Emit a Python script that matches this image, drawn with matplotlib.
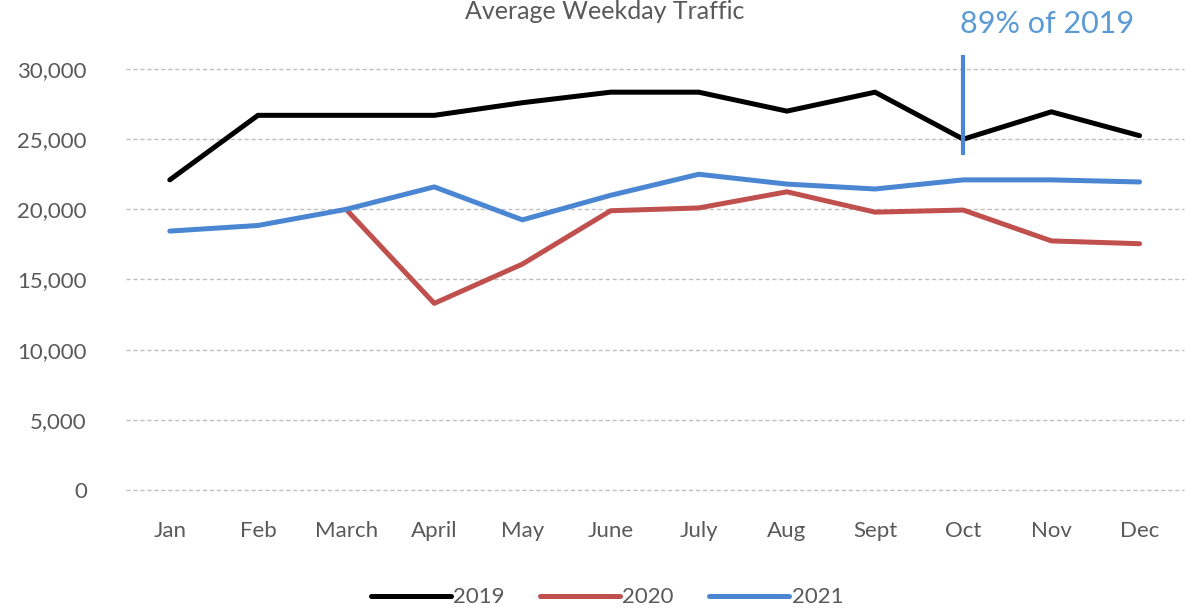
import numpy as np
import matplotlib.pyplot as plt

months = ["Jan", "Feb", "March", "April", "May", "June", "July", "Aug", "Sept", "Oct", "Nov", "Dec"]
traffic_2019 = [22100, 26700, 26700, 26700, 27600, 28350, 28350, 27000, 28350, 25000, 26950, 25250]
traffic_2020 = [np.nan, np.nan, 20000, 13300, 16100, 19900, 20100, 21250, 19800, 19950, 17750, 17550]
traffic_2021 = [18450, 18850, 20000, 21600, 19250, 21000, 22500, 21800, 21450, 22100, 22100, 21950]

plt.rcParams['font.family'] = ['Lato', 'DejaVu Sans']
gray = "#595959"

fig = plt.figure(figsize=(11.86, 6.13), dpi=100)
ax = fig.add_axes([0.106, 0.2007, 0.892, 0.6867])

x = np.arange(len(months))
ax.plot(x, traffic_2019, color="black", lw=3.6, label="2019", solid_capstyle="round")
ax.plot(x, traffic_2020, color="#C0504D", lw=3.6, label="2020", solid_capstyle="round")
ax.plot(x, traffic_2021, color="#4A86D2", lw=3.6, label="2021", solid_capstyle="round")

# annotation line at Oct
ax.plot([9, 9], [24000, 30850], color="#4A86D2", lw=3, clip_on=False)
ax.text(9.95, 33200, "89% of 2019", color="#5B9BD5", fontsize=22, ha="center", va="center")

ax.set_xlim(-0.5, 11.5)
ax.set_ylim(0, 30000)
ax.set_yticks(range(0, 30001, 5000))
ax.set_yticklabels([f"{v:,}" for v in range(0, 30001, 5000)])
ax.set_xticks(x)
ax.set_xticklabels(months)
ax.tick_params(length=0, labelsize=16, colors=gray)
ax.tick_params(axis="x", pad=22)
ax.tick_params(axis="y", pad=28)
ax.grid(axis="y", color="#BFBFBF", ls=(0, (3, 2)), lw=1)
for gl in ax.get_ygridlines():
    gl.set_clip_on(False)
ax.set_axisbelow(True)
for s in ax.spines.values():
    s.set_visible(False)

fig.text(0.51, 1.0, "Average Weekday Traffic", color=gray, fontsize=18, ha="center", va="top")

ax.legend(loc="center", bbox_to_anchor=(0.455, -0.255), ncol=3, frameon=False,
          fontsize=16, labelcolor=gray, handlelength=3.6, handletextpad=0.1, columnspacing=1.6)

fig.savefig("out.png", dpi=100)
